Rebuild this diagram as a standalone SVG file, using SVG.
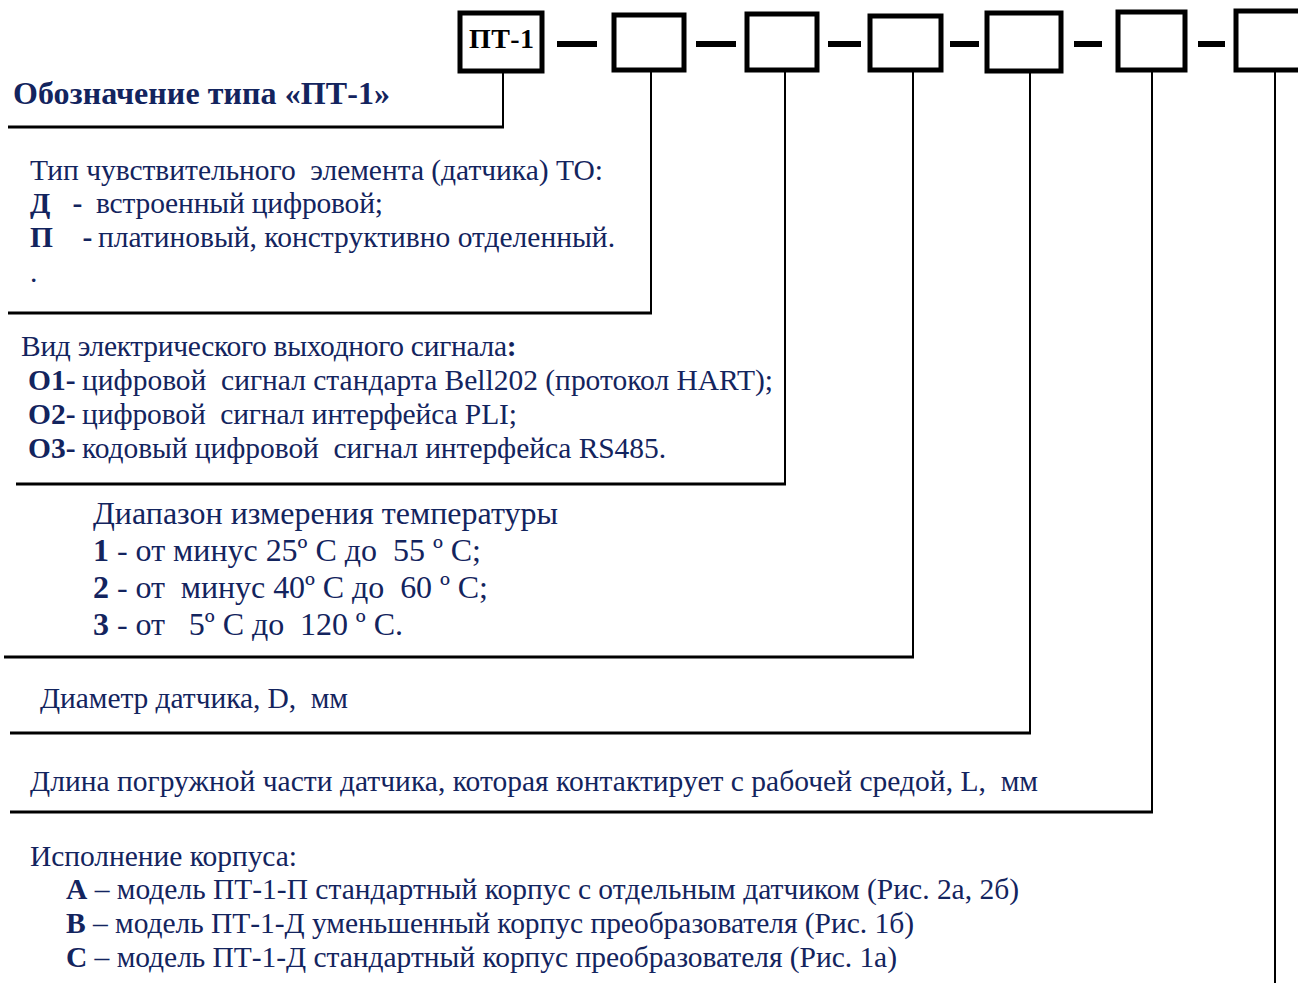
<svg xmlns="http://www.w3.org/2000/svg" width="1298" height="983" viewBox="0 0 1298 983">
<style>
.box{fill:#fff;stroke:#000;stroke-width:5}
.dash{stroke:#000;stroke-width:6}
.v{stroke:#000;stroke-width:2;fill:none}
.h{stroke:#000;stroke-width:3;fill:none}
text{font-family:"Liberation Serif","Times New Roman",serif;fill:#13245e;white-space:pre}
.t{font-size:29.5px}
.r{font-size:32px}
.b{font-weight:bold}
.code{font-size:28px;font-weight:bold;fill:#000}
</style>
<rect width="1298" height="983" fill="#fff"/>
<g id="connectors">
<path class="dash" d="M557 44H597M696 44H736M828 44H861M950 44H979M1074 44H1102M1198 44H1225"/>
<path class="v" d="M503 72V127M651 72V313M785 72V484M913 72V657M1030 72V733M1152 72V812M1275 72V983"/>
<path class="h" d="M8 127H504M8 313H652M16 484H786M4 657H914M10 733H1031M10 812H1153"/>
</g>
<g id="box-pt1"><rect class="box" x="460" y="13" width="82" height="58"/><text class="code" x="469" y="48" textLength="65">ПТ-1</text></g>
<g id="box-2"><rect class="box" x="614" y="15" width="70" height="55"/></g>
<g id="box-3"><rect class="box" x="747" y="14" width="70" height="56"/></g>
<g id="box-4"><rect class="box" x="870" y="16" width="71" height="54"/></g>
<g id="box-5"><rect class="box" x="987" y="13" width="74" height="58"/></g>
<g id="box-6"><rect class="box" x="1118" y="12" width="67" height="58"/></g>
<g id="box-7"><rect class="box" x="1236" y="11" width="70" height="59"/></g>
<g id="title"><text class="b" x="13" y="104" font-size="32" textLength="377">Обозначение типа «ПТ-1»</text></g>
<g id="sensor-type">
<text class="t" x="30" y="180" textLength="573">Тип чувствительного  элемента (датчика) ТО:</text>
<text class="t" x="30" y="213"><tspan class="b">Д   -</tspan></text>
<text class="t" x="96" y="213" textLength="287">встроенный цифровой;</text>
<text class="t" x="30" y="247"><tspan class="b">П    -</tspan></text>
<text class="t" x="98" y="247" textLength="517">платиновый, конструктивно отделенный.</text>
<text class="t" x="30" y="282">.</text>
</g>
<g id="signal">
<text class="t" x="21" y="356"><tspan textLength="486">Вид электрического выходного сигнала</tspan><tspan class="b">:</tspan></text>
<text class="t b" x="28" y="390">О1-</text>
<text class="t" x="82" y="390" textLength="691">цифровой  сигнал стандарта Bell202 (протокол HART);</text>
<text class="t b" x="28" y="424">О2-</text>
<text class="t" x="82" y="424" textLength="435">цифровой  сигнал интерфейса PLI;</text>
<text class="t b" x="28" y="458">О3-</text>
<text class="t" x="82" y="458" textLength="584">кодовый цифровой  сигнал интерфейса RS485.</text>
</g>
<g id="range">
<text class="r" x="93" y="524" textLength="465">Диапазон измерения температуры</text>
<text class="r" x="93" y="561" textLength="388"><tspan class="b">1</tspan> - от минус 25º С до  55 º С;</text>
<text class="r" x="93" y="598" textLength="395"><tspan class="b">2</tspan> - от  минус 40º С до  60 º С;</text>
<text class="r" x="93" y="635" textLength="310"><tspan class="b">3</tspan> - от   5º С до  120 º С.</text>
</g>
<g id="diameter"><text class="t" x="40" y="708" textLength="308">Диаметр датчика, D,  мм</text></g>
<g id="length"><text class="t" x="30" y="791" textLength="1008">Длина погружной части датчика, которая контактирует с рабочей средой, L,  мм</text></g>
<g id="housing">
<text class="t" x="30" y="866" textLength="267">Исполнение корпуса:</text>
<text class="t" x="66" y="899" textLength="953"><tspan class="b">А</tspan> – модель ПТ-1-П стандартный корпус с отдельным датчиком (Рис. 2а, 2б)</text>
<text class="t" x="66" y="933" textLength="848"><tspan class="b">В</tspan> – модель ПТ-1-Д уменьшенный корпус преобразователя (Рис. 1б)</text>
<text class="t" x="66" y="967" textLength="831"><tspan class="b">С</tspan> – модель ПТ-1-Д стандартный корпус преобразователя (Рис. 1а)</text>
</g>
</svg>
